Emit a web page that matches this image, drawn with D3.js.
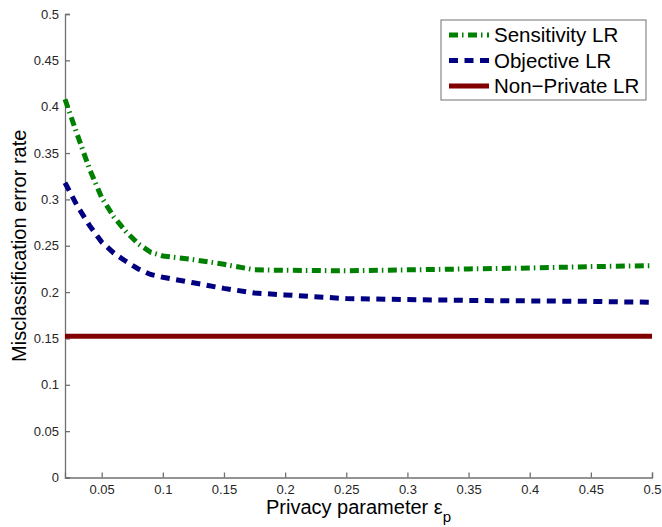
<!DOCTYPE html>
<html>
<head>
<meta charset="utf-8">
<script src="https://cdn.jsdelivr.net/npm/d3@7"></script>
<style>
  body { margin: 0; background: #fff; }
  text { font-family: "Liberation Sans", Arial, sans-serif; }
</style>
</head>
<body>
<div id="chart"></div>
<script>
// Data
const epsValues = [0.02, 0.03, 0.04, 0.05, 0.06, 0.07, 0.08, 0.09, 0.1, 0.125, 0.15, 0.175, 0.2, 0.25, 0.3, 0.35, 0.4, 0.45, 0.5];
const sensitivityLR = [0.408, 0.370, 0.333, 0.302, 0.281, 0.265, 0.252, 0.243, 0.239, 0.235, 0.230, 0.224, 0.2235, 0.223, 0.224, 0.225, 0.226, 0.2275, 0.2285];
const objectiveLR = [0.318, 0.293, 0.272, 0.254, 0.242, 0.233, 0.225, 0.219, 0.216, 0.210, 0.204, 0.199, 0.197, 0.193, 0.192, 0.191, 0.1905, 0.190, 0.189];
const nonPrivateLR = [0.1525, 0.1525];
const nonPrivateEps = [0.02, 0.5];
const xTicks = [0.05, 0.1, 0.15, 0.2, 0.25, 0.3, 0.35, 0.4, 0.45, 0.5];
const yTicks = [0, 0.05, 0.1, 0.15, 0.2, 0.25, 0.3, 0.35, 0.4, 0.45, 0.5];
const seriesNames = ["Sensitivity LR", "Objective LR", "Non\u2212Private LR"];

const W = 662, H = 527;
const margin = {top: 14, right: 10, bottom: 50, left: 65};
const width = 652 - margin.left;
const height = 477.5 - margin.top;

const svg = d3.select("#chart")
    .append("svg")
    .attr("width", W)
    .attr("height", H);

const g = svg.append("g")
    .attr("transform", `translate(${margin.left}, ${margin.top})`);

const x = d3.scaleLinear().domain([0.02, 0.5]).range([0, width]);
const y = d3.scaleLinear().domain([0, 0.5]).range([height, 0]);

const axisColor = "#707070";
const labelColor = "#262626";

// X axis (ticks point inward)
const xAxis = g.append("g")
    .attr("transform", `translate(0, ${height})`)
    .call(d3.axisBottom(x).tickValues(xTicks).tickSize(-5).tickPadding(7)
        .tickFormat(d3.format("")));
xAxis.select(".domain").attr("stroke", axisColor).attr("stroke-width", 1.3);
xAxis.selectAll(".tick line").attr("stroke", axisColor).attr("stroke-width", 1.3);
xAxis.selectAll("text").attr("fill", labelColor).style("font-size", "13px");

// Y axis (ticks point inward)
const yAxis = g.append("g")
    .call(d3.axisLeft(y).tickValues(yTicks).tickSize(-5).tickPadding(6)
        .tickFormat(d3.format("")));
yAxis.select(".domain").attr("stroke", axisColor).attr("stroke-width", 1.3);
yAxis.selectAll(".tick line").attr("stroke", axisColor).attr("stroke-width", 1.3);
yAxis.selectAll("text").attr("fill", labelColor).style("font-size", "13px");

const line = d3.line()
    .x(d => x(d[0]))
    .y(d => y(d[1]));

const series = [
    {name: seriesNames[0], xs: epsValues, ys: sensitivityLR, color: "#008000", dash: "9,4,1.5,4.5"},
    {name: seriesNames[1], xs: epsValues, ys: objectiveLR, color: "#000080", dash: "9,6.5"},
    {name: seriesNames[2], xs: nonPrivateEps, ys: nonPrivateLR, color: "#800000", dash: null}
];

g.selectAll(".series")
    .data(series.slice().reverse())
    .enter()
    .append("path")
    .attr("class", "series")
    .attr("d", s => line(s.xs.map((v, i) => [v, s.ys[i]])))
    .attr("fill", "none")
    .attr("stroke", s => s.color)
    .attr("stroke-width", 5)
    .attr("stroke-dasharray", s => s.dash);

// Axis labels
svg.append("text")
    .attr("transform", `translate(26, ${margin.top + height / 2}) rotate(-90)`)
    .attr("text-anchor", "middle")
    .style("font-size", "20px")
    .attr("fill", "#000")
    .text("Misclassification error rate");

const xl = svg.append("text")
    .attr("x", margin.left + width / 2)
    .attr("y", 514)
    .attr("text-anchor", "middle")
    .style("font-size", "20px")
    .attr("fill", "#000");
xl.append("tspan").text("Privacy parameter \u03b5");
xl.append("tspan").attr("dy", 8).style("font-size", "15px").text("p");

// Legend
const legend = svg.append("g").attr("transform", "translate(441, 20)");
legend.append("rect")
    .attr("width", 205)
    .attr("height", 80)
    .attr("fill", "#fff")
    .attr("stroke", "#707070")
    .attr("stroke-width", 1);

const rows = legend.selectAll(".row")
    .data(series)
    .enter()
    .append("g")
    .attr("transform", (d, i) => `translate(0, ${15 + i * 25.5})`);

rows.append("line")
    .attr("x1", 8).attr("x2", 48)
    .attr("stroke", d => d.color)
    .attr("stroke-width", 5)
    .attr("stroke-dasharray", d => d.dash);

rows.append("text")
    .attr("x", 53)
    .attr("dy", "0.35em")
    .style("font-size", "20.5px")
    .attr("fill", "#000")
    .text(d => d.name);
</script>
</body>
</html>
